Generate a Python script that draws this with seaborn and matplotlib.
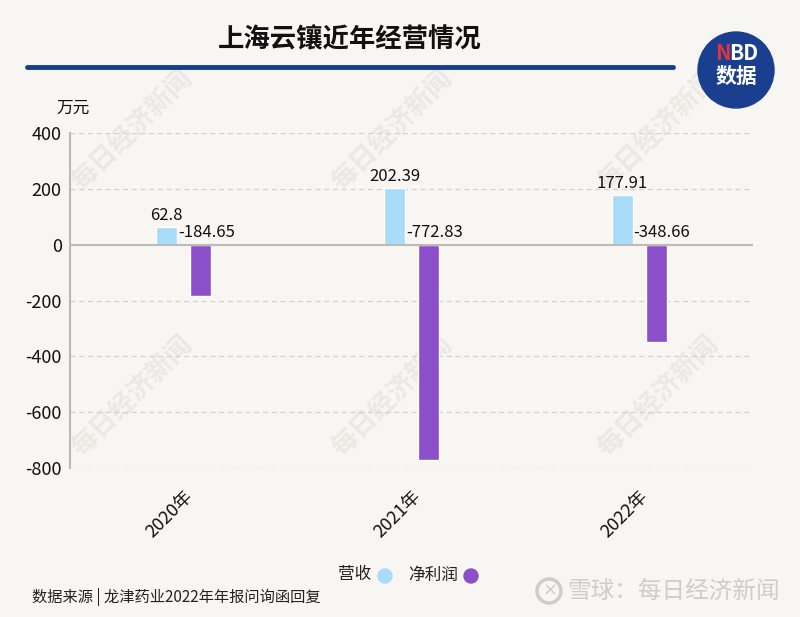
import pandas as pd
import numpy as np
import matplotlib.pyplot as plt
import seaborn as sns
from matplotlib.patches import Ellipse

# === Data ===
years = ['2020年', '2021年', '2022年']
revenue = [62.8, 202.39, 177.91]
net_profit = [-184.65, -772.83, -348.66]
series_names = ['营收', '净利润']
yticks = [400, 200, 0, -200, -400, -600, -800]

df = pd.DataFrame({
    'year': years * 2,
    'value': revenue + net_profit,
    'series': [series_names[0]] * 3 + [series_names[1]] * 3,
})

bg = '#f8f6f2'
blue = '#a9dcf8'
purple = '#8a4fc9'
navy = '#143d8c'
W, H = 800, 617


def fx(px):
    return px / W


def fy(py):
    return 1 - py / H


def dot(xp, yp, r, color, **kw):
    # circle in pixel units, drawn on the figure
    fig.add_artist(Ellipse((fx(xp), fy(yp)), 2 * r / W, 2 * r / H,
                           transform=fig.transFigure, color=color, **kw))


sns.set_theme(style='white')
plt.rcParams['font.family'] = ['Noto Sans CJK SC', 'DejaVu Sans']

fig = plt.figure(figsize=(8, 6.17), dpi=100, facecolor=bg)

# watermarks (behind everything)
for cx in [132, 392, 658]:
    for cy in [130, 396]:
        fig.text(fx(cx), fy(cy), '每日经济新闻', rotation=45, fontsize=19,
                 fontweight='bold', color='#ece9e4', ha='center', va='center',
                 zorder=-5)

ax = fig.add_axes([0.0875, 0.2415, 0.8538, 0.5429])
ax.patch.set_alpha(0)

sns.barplot(data=df, x='year', y='value', hue='series', order=years,
            hue_order=series_names, palette=[blue, purple],
            width=0.3, gap=0.39, legend=False, ax=ax, saturation=1)

ax.set_ylim(-800, 400)
ax.set_xlim(-0.5, 2.5)
ax.set_yticks(yticks)
ax.set_yticklabels([str(t) for t in yticks], fontsize=13, color='#111111')
ax.tick_params(axis='y', length=0, pad=6)
ax.set_xlabel('')
ax.set_ylabel('')

# grid + zero line
for t in yticks:
    if t == 0:
        ax.axhline(0, color='#bdbab5', lw=1.5, zorder=1)
    else:
        ax.axhline(t, color='#d4d1cc', lw=0.9, ls=(0, (4, 3)), zorder=0)

for s in ['top', 'right', 'bottom']:
    ax.spines[s].set_visible(False)
ax.spines['left'].set_color('#bdbab5')
ax.spines['left'].set_linewidth(1.5)

# x tick labels
ax.set_xticks(range(len(years)))
ax.set_xticklabels(years, rotation=45, ha='right', rotation_mode='anchor',
                   fontsize=13, color='#111111')
ax.tick_params(axis='x', length=0, pad=14)

# value labels
bar_w = 0.3 / 2 * (1 - 0.39)
for i, (r, p) in enumerate(zip(revenue, net_profit)):
    ax.text(i - 0.075, max(r, 0) + 12, f'{r:g}', ha='center', va='bottom',
            fontsize=12, color='#111111')
    ax.text(i - 0.075 + bar_w / 2 + 0.005, max(p, 0) + 14, f'{p:g}', ha='left',
            va='bottom', fontsize=12, color='#111111')

fig.text(fx(56), fy(108), '万元', fontsize=12, color='#111111', va='center')

# title + rule
fig.text(fx(350), fy(40), '上海云镶近年经营情况', ha='center', va='center',
         fontsize=19, fontweight='heavy', color='#111111')
fig.add_artist(plt.Line2D([fx(27), fx(673)], [fy(67), fy(67)], color=navy, lw=3.5))

# NBD logo
dot(736, 70, 38, '#1a3f8f', zorder=5)
fig.text(fx(723), fy(54), 'N', ha='center', va='center', fontsize=15,
         fontweight='bold', color='#e0353b', zorder=6)
fig.text(fx(744), fy(54), 'BD', ha='center', va='center', fontsize=15,
         fontweight='bold', color='white', zorder=6)
fig.text(fx(736), fy(76), '数据', ha='center', va='center', fontsize=15,
         fontweight='bold', color='white', zorder=6)

# legend
fig.text(fx(371), fy(575), '营收', ha='right', va='center', fontsize=12, color='#222222')
dot(385, 576, 7, blue)
fig.text(fx(458), fy(575), '净利润', ha='right', va='center', fontsize=12, color='#222222')
dot(471, 576, 7, purple)

# source + brand
fig.text(fx(32), fy(597), '数据来源 | 龙津药业2022年年报问询函回复', ha='left',
         va='center', fontsize=11, color='#222222')
dot(549, 591, 12, 'none', ec='#cfcdc9', lw=2.5)
fig.text(fx(543), fy(591), '×', ha='left', va='center', fontsize=13,
         color='#cfcdc9', family='DejaVu Sans')
fig.text(fx(567), fy(591), '雪球：每日经济新闻', ha='left', va='center',
         fontsize=17, color='#cfcdc9')

fig.savefig('out.png', dpi=100, facecolor=bg)
